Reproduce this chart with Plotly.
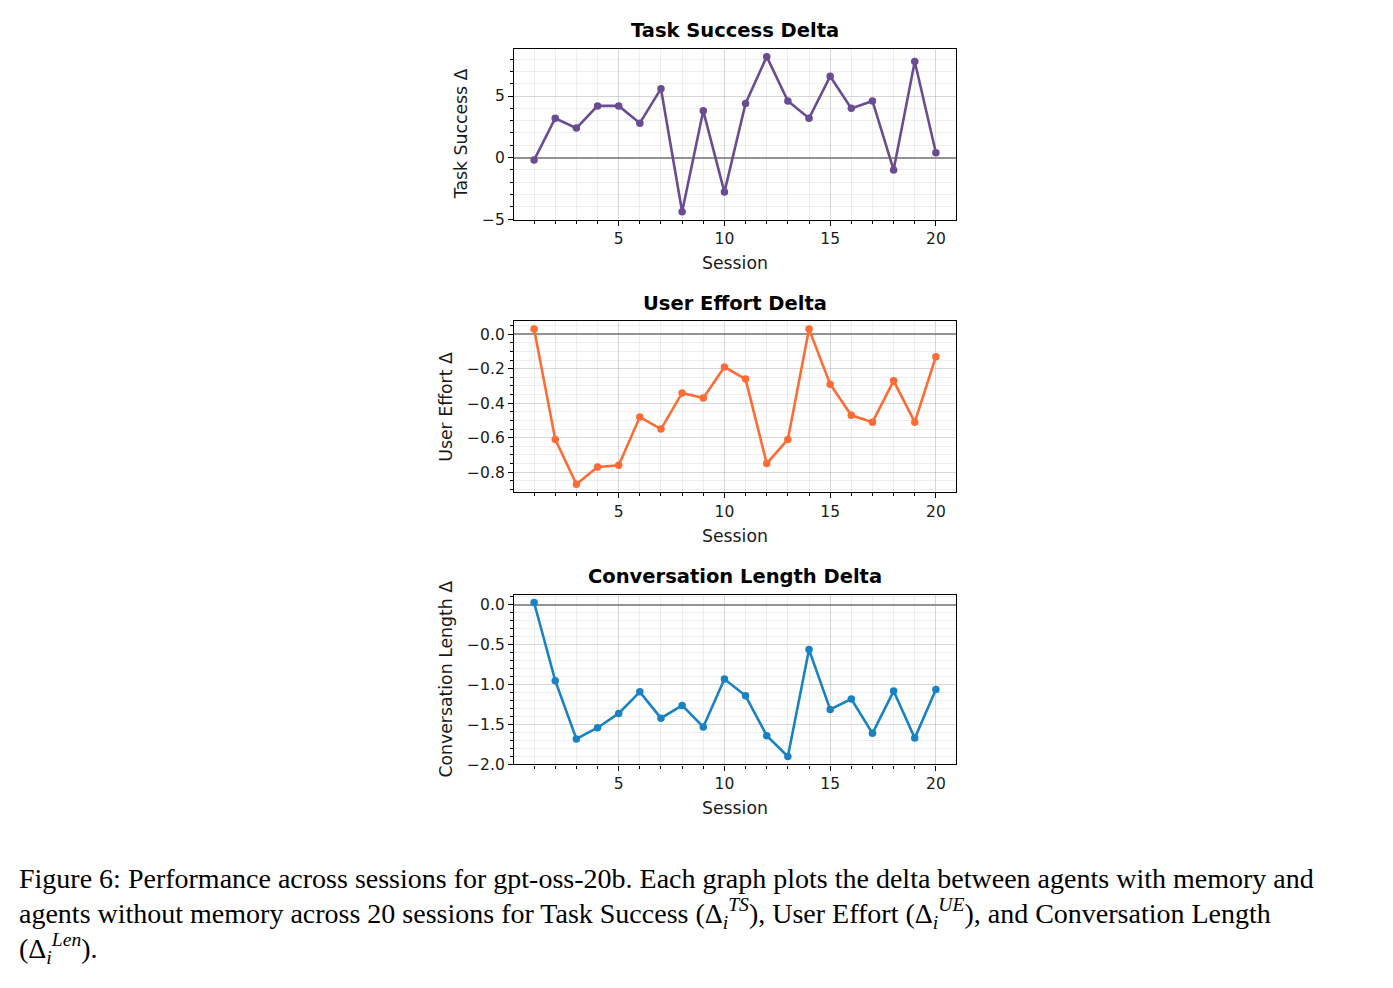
import plotly.graph_objects as go

sessions = list(range(1, 21))
task_success = [-0.2, 3.2, 2.4, 4.2, 4.2, 2.8, 5.6, -4.4, 3.8, -2.8,
                4.4, 8.2, 4.6, 3.2, 6.6, 4.0, 4.6, -1.0, 7.8, 0.4]
user_effort = [0.03, -0.61, -0.87, -0.77, -0.76, -0.48, -0.55, -0.34, -0.37, -0.19,
               -0.26, -0.75, -0.61, 0.03, -0.29, -0.47, -0.51, -0.27, -0.51, -0.13]
conv_length = [0.03, -0.95, -1.68, -1.54, -1.36, -1.09, -1.42, -1.26, -1.53, -0.93,
               -1.14, -1.64, -1.90, -0.56, -1.31, -1.18, -1.61, -1.08, -1.67, -1.06]

titles = ["Task Success Delta", "User Effort Delta", "Conversation Length Delta"]
ylabels = ["Task Success Δ", "User Effort Δ", "Conversation Length Δ"]
colors = ["#6a4c93", "#ff6b35", "#1982c4"]
series = [task_success, user_effort, conv_length]

W, H = 1393, 988
HE = 981.0  # effective vertical scale used for pixel -> paper mapping
# panel pixel boxes (top, bottom)
boxes = [(49, 220), (322, 493), (596, 766)]
x0px, x1px = 514, 956
yranges = [[-5.03, 8.83], [-0.915, 0.075], [-2.0, 0.127]]
ydticks = [5, 0.2, 0.5]
yminor = [1, 0.05, 0.1]
yfmt = ["d", ".1f", ".1f"]
ylabel_x = [461, 446, 446]


def py(v):
    return 1 - v / HE


fig = go.Figure()
annotations = []
for i in range(3):
    n = "" if i == 0 else str(i + 1)
    top, bot = boxes[i]
    fig.add_trace(go.Scatter(
        x=sessions, y=series[i], mode="lines+markers",
        line=dict(color=colors[i], width=2.6),
        marker=dict(color=colors[i], size=7.5),
        xaxis="x" + n, yaxis="y" + n, showlegend=False, cliponaxis=False))
    common = dict(
        showline=True, linecolor="black", linewidth=1.3, mirror=True,
        ticks="outside", ticklen=5, tickwidth=1.2, tickcolor="black",
        tickfont=dict(family="DejaVu Sans", size=15.5, color="#1a1a1a"),
        showgrid=True, gridcolor="rgba(176,176,176,0.5)", gridwidth=1,
    )
    fig.layout["xaxis" + n] = dict(
        common, domain=[x0px / W, x1px / W], anchor="y" + n,
        range=[0.05, 20.95], tick0=0, dtick=5, zeroline=False,
        minor=dict(dtick=1, tick0=0, ticks="outside", ticklen=3, tickcolor="black",
                   showgrid=True, gridcolor="rgba(200,200,200,0.3)", gridwidth=0.6),
    )
    fig.layout["yaxis" + n] = dict(
        common, domain=[py(bot), py(top)], anchor="x" + n,
        range=yranges[i], tick0=0, dtick=ydticks[i], tickformat=yfmt[i],
        zeroline=True, zerolinecolor="rgba(128,128,128,0.85)", zerolinewidth=1.5,
        minor=dict(dtick=yminor[i], tick0=0, ticks="outside", ticklen=3, tickcolor="black",
                   showgrid=True, gridcolor="rgba(200,200,200,0.3)", gridwidth=0.6),
    )
    cx = (x0px + x1px) / 2 / W
    annotations.append(dict(text="<b>" + titles[i] + "</b>", x=cx, y=py(top - 18),
                            xref="paper", yref="paper", showarrow=False,
                            xanchor="center", yanchor="middle",
                            font=dict(family="DejaVu Sans", size=19.5, color="black")))
    annotations.append(dict(text="Session", x=cx, y=py(bot + 44),
                            xref="paper", yref="paper", showarrow=False,
                            xanchor="center", yanchor="middle",
                            font=dict(family="DejaVu Sans", size=17.3, color="#1a1a1a")))
    annotations.append(dict(text=ylabels[i], x=ylabel_x[i] / W, y=py((top + bot) / 2),
                            xref="paper", yref="paper", showarrow=False, textangle=-90,
                            xanchor="center", yanchor="middle",
                            font=dict(family="DejaVu Sans", size=17.3, color="#1a1a1a")))

caption_lines = [
    "Figure 6: Performance across sessions for gpt-oss-20b. Each graph plots the delta between agents with memory and",
    "agents without memory across 20 sessions for Task Success (Δ<sub><i>i</i></sub><sup><i>TS</i></sup>), "
    "User Effort (Δ<sub><i>i</i></sub><sup><i>UE</i></sup>), and Conversation Length",
    "(Δ<sub><i>i</i></sub><sup><i>Len</i></sup>).",
]
caption_y = [880, 915, 950]
for t, yy in zip(caption_lines, caption_y):
    annotations.append(dict(text=t, x=17 / W, y=py(yy), xref="paper", yref="paper",
                            showarrow=False, xanchor="left", yanchor="middle",
                            font=dict(family="Liberation Serif", size=28, color="black")))

fig.update_layout(width=W, height=H, margin=dict(l=0, r=0, t=0, b=0),
                  paper_bgcolor="white", plot_bgcolor="white",
                  annotations=annotations)
fig.write_html("out.html")
